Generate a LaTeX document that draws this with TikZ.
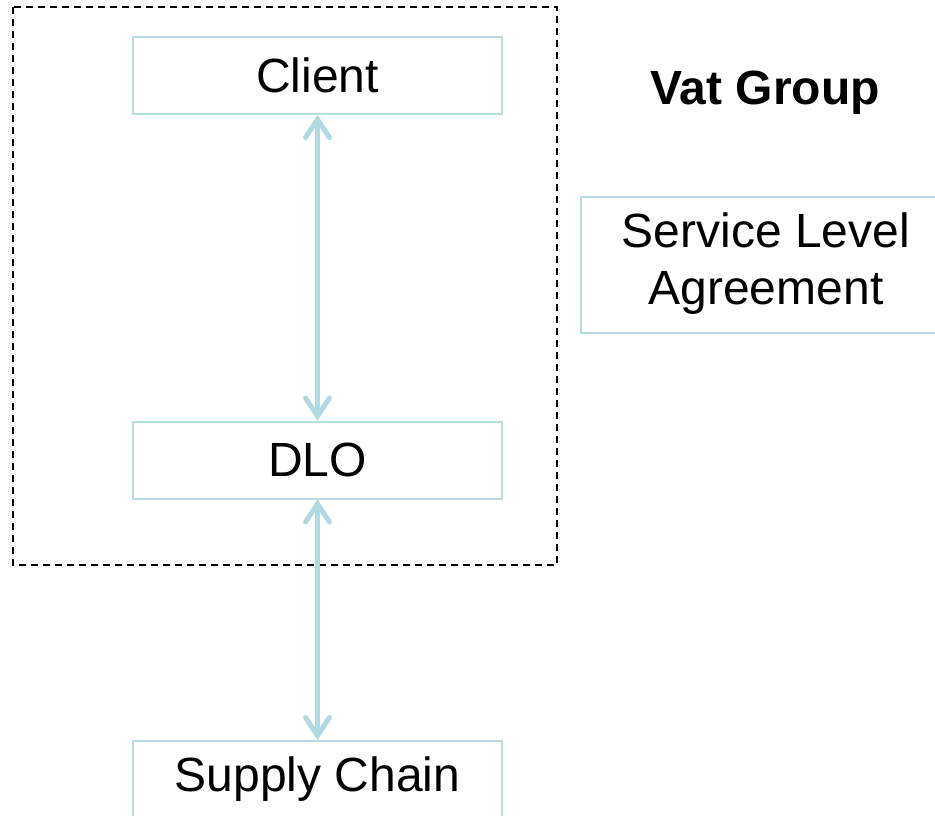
\documentclass[tikz,border=0pt]{standalone}
\usepackage{fontspec}
\setmainfont{Liberation Sans}
\usetikzlibrary{arrows.meta}
\definecolor{boxline}{RGB}{183,222,227}
\definecolor{linkline}{RGB}{176,218,224}
\tikzset{
  box/.style={draw=boxline, line width=2pt, rectangle, inner sep=0pt,
    minimum width=369pt, minimum height=77pt, align=center,
    font=\fontsize{48}{57}\selectfont},
  link/.style={draw=linkline, line width=5pt,
    {Straight Barb[length=18pt,width=24pt,line cap=round]}-{Straight Barb[length=18pt,width=24pt,line cap=round]}},
  groupframe/.style={draw=black, line width=2pt, dash pattern=on 7pt off 5pt},
  title/.style={font=\fontsize{48}{57}\selectfont\bfseries, inner sep=0pt}
}
\begin{document}
\begin{tikzpicture}[x=1pt,y=-1pt]
  \useasboundingbox (0,0) rectangle (935,816);
  \clip (0,0) rectangle (935,816);
  % dashed group frame
  \draw[groupframe] (13,7) rectangle (557,565);
  % boxes
  \node[box] (client) at (317.5,75.5) {Client};
  \node[box] (dlo) at (317.5,460) {DLO};
  \node[box] (supply) at (317.5,779.5) {Supply Chain};
  \node[box, minimum width=370pt, minimum height=136pt] (sla) at (766,265)
    {\raisebox{-4pt}{\begin{tabular}{@{}c@{}}Service Level\\Agreement\end{tabular}}};
  \node[title] (vat) at (765,93) {Vat Group};
  % connectors
  \draw[link] (client.south) -- (dlo.north);
  \draw[link] (dlo.south) -- (supply.north);
\end{tikzpicture}
\end{document}
